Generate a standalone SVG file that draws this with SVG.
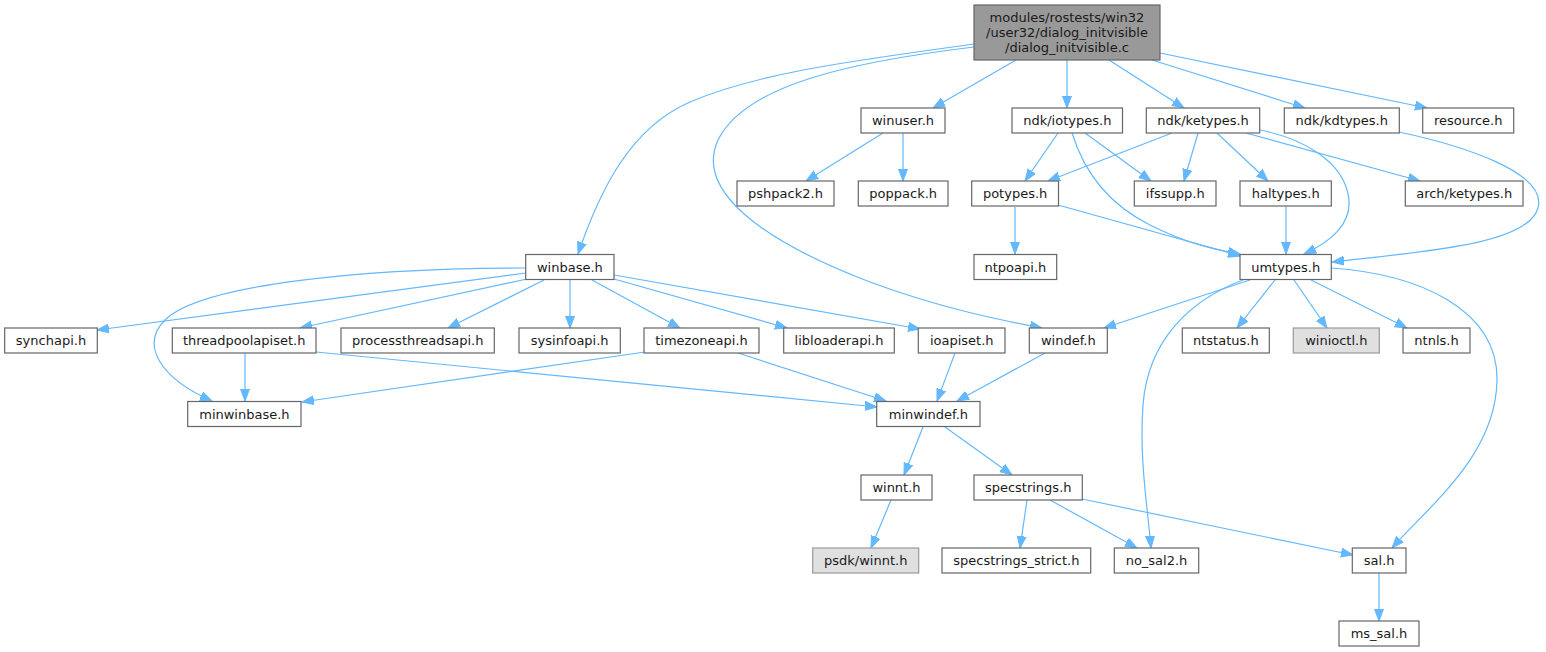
<svg xmlns="http://www.w3.org/2000/svg" width="1546" height="652" viewBox="0 0 1546 652">
<style>
.n rect{fill:#ffffff;stroke:#666666;stroke-width:1.2}
.n.g rect{fill:#e0e0e0;stroke:#999999}
.n.m rect{fill:#999999;stroke:#666666}
.n text{font-family:"DejaVu Sans","Liberation Sans",sans-serif;font-size:13px;fill:#1a1a1a;text-anchor:middle}
#edges path{fill:none;stroke:#63b8ff;stroke-width:1.2;marker-end:url(#a)}
</style>
<defs>
<marker id="a" markerWidth="13" markerHeight="11" refX="12" refY="5" orient="auto" markerUnits="userSpaceOnUse">
<path d="M0,0.5 L12,5 L0,9.5 z" fill="#63b8ff" stroke="#63b8ff" stroke-width="1"/>
</marker>
</defs>
<rect width="1546" height="652" fill="#ffffff"/>
<g id="edges">
<path d="M974,44 C860,60 760,72 690,102 C630,128 600,190 578,254"/>
<path d="M974,47 C850,62 745,85 718,140 C695,190 760,240 870,282 C940,308 1000,320 1042,328"/>
<path d="M1016,60 L933,108"/>
<path d="M1067,60 L1067,108"/>
<path d="M1109,60 L1184,108"/>
<path d="M1152,60 L1305,108"/>
<path d="M1160,53 L1427,108"/>
<path d="M883,133 L806,181"/>
<path d="M903,133 L903,181"/>
<path d="M1058,133 L1025,181"/>
<path d="M1085,133 L1151,181"/>
<path d="M1072,133 C1085,175 1110,205 1150,225 C1180,240 1205,248 1240,254"/>
<path d="M1172,133 L1048,181"/>
<path d="M1198,133 L1184,181"/>
<path d="M1217,133 L1268,181"/>
<path d="M1246,133 L1420,181"/>
<path d="M1260,130 C1300,138 1345,160 1349,200 C1351,225 1330,242 1304,254"/>
<path d="M1399,132 C1460,145 1548,172 1538,208 C1528,245 1420,252 1332,262"/>
<path d="M1015,207 L1015,254"/>
<path d="M1058,205 L1241,256"/>
<path d="M1286,206 L1286,254"/>
<path d="M1250,280 L1104,328"/>
<path d="M1243,280 C1190,300 1148,340 1143,405 C1139,460 1148,510 1151,548"/>
<path d="M1275,280 L1237,328"/>
<path d="M1294,280 L1327,328"/>
<path d="M1311,280 L1407,328"/>
<path d="M1331,268 C1420,274 1498,310 1497,380 C1496,455 1430,505 1392,548"/>
<path d="M526,273 L97,330"/>
<path d="M526,268 C360,268 200,285 165,320 C140,345 160,378 212,401"/>
<path d="M527,279 L300,328"/>
<path d="M544,280 L448,328"/>
<path d="M570,280 L570,328"/>
<path d="M592,280 L680,328"/>
<path d="M614,279 L787,328"/>
<path d="M614,275 L920,329"/>
<path d="M245,353 L245,401"/>
<path d="M316,352 L877,407"/>
<path d="M645,352 L302,402"/>
<path d="M738,353 L886,401"/>
<path d="M955,353 L937,401"/>
<path d="M1045,353 L957,401"/>
<path d="M923,427 L904,475"/>
<path d="M945,427 L1012,475"/>
<path d="M891,500 L871,548"/>
<path d="M1027,500 L1020,548"/>
<path d="M1050,500 L1137,548"/>
<path d="M1082,499 L1353,555"/>
<path d="M1379,573 L1379,621"/>
</g>
<g id="main" class="n m"><rect x="974" y="5" width="186" height="55"/><text x="1067" y="22">modules/rostests/win32</text><text x="1067" y="37">/user32/dialog_initvisible</text><text x="1067" y="52">/dialog_initvisible.c</text></g>
<g id="winuser" class="n"><rect x="861" y="108" width="84" height="25"/><text x="903" y="125">winuser.h</text></g>
<g id="ndk_iotypes" class="n"><rect x="1012" y="108" width="110.5" height="25"/><text x="1067.3" y="125">ndk/iotypes.h</text></g>
<g id="ndk_ketypes" class="n"><rect x="1146.3" y="108" width="113.4" height="25"/><text x="1203" y="125">ndk/ketypes.h</text></g>
<g id="ndk_kdtypes" class="n"><rect x="1284.3" y="108" width="115" height="25"/><text x="1341.8" y="125">ndk/kdtypes.h</text></g>
<g id="resource" class="n"><rect x="1422.7" y="108" width="91" height="25"/><text x="1468.2" y="125">resource.h</text></g>
<g id="pshpack2" class="n"><rect x="737" y="181" width="97" height="25"/><text x="785.5" y="198">pshpack2.h</text></g>
<g id="poppack" class="n"><rect x="858.3" y="181" width="89.7" height="25"/><text x="903.2" y="198">poppack.h</text></g>
<g id="potypes" class="n"><rect x="971.7" y="181" width="86.8" height="25"/><text x="1015.1" y="198">potypes.h</text></g>
<g id="ifssupp" class="n"><rect x="1134.3" y="181" width="81.7" height="25"/><text x="1175.2" y="198">ifssupp.h</text></g>
<g id="haltypes" class="n"><rect x="1240" y="181" width="91.3" height="25"/><text x="1285.7" y="198">haltypes.h</text></g>
<g id="arch_ketypes" class="n"><rect x="1405.3" y="181" width="117.7" height="25"/><text x="1464.2" y="198">arch/ketypes.h</text></g>
<g id="winbase" class="n"><rect x="525.7" y="254.5" width="88.3" height="25"/><text x="569.9" y="271.5">winbase.h</text></g>
<g id="ntpoapi" class="n"><rect x="974" y="254.5" width="82.7" height="25"/><text x="1015.4" y="271.5">ntpoapi.h</text></g>
<g id="umtypes" class="n"><rect x="1240" y="254.5" width="91.3" height="25"/><text x="1285.7" y="271.5">umtypes.h</text></g>
<g id="synchapi" class="n"><rect x="4.7" y="328" width="92.6" height="25"/><text x="51" y="345">synchapi.h</text></g>
<g id="threadpoolapiset" class="n"><rect x="172.3" y="328" width="143.7" height="25"/><text x="244.2" y="345">threadpoolapiset.h</text></g>
<g id="processthreadsapi" class="n"><rect x="341" y="328" width="153.3" height="25"/><text x="417.7" y="345">processthreadsapi.h</text></g>
<g id="sysinfoapi" class="n"><rect x="519" y="328" width="101.3" height="25"/><text x="569.7" y="345">sysinfoapi.h</text></g>
<g id="timezoneapi" class="n"><rect x="644" y="328" width="115" height="25"/><text x="701.5" y="345">timezoneapi.h</text></g>
<g id="libloaderapi" class="n"><rect x="783.7" y="328" width="110.6" height="25"/><text x="839" y="345">libloaderapi.h</text></g>
<g id="ioapiset" class="n"><rect x="918.3" y="328" width="86.7" height="25"/><text x="961.7" y="345">ioapiset.h</text></g>
<g id="windef" class="n"><rect x="1029.3" y="328" width="78" height="25"/><text x="1068.3" y="345">windef.h</text></g>
<g id="ntstatus" class="n"><rect x="1182.3" y="328" width="87" height="25"/><text x="1225.8" y="345">ntstatus.h</text></g>
<g id="winioctl" class="n g"><rect x="1293.3" y="328" width="86" height="25"/><text x="1336.3" y="345">winioctl.h</text></g>
<g id="ntnls" class="n"><rect x="1403" y="328" width="67" height="25"/><text x="1436.5" y="345">ntnls.h</text></g>
<g id="minwinbase" class="n"><rect x="187.7" y="401.5" width="113.3" height="25"/><text x="244.4" y="418.5">minwinbase.h</text></g>
<g id="minwindef" class="n"><rect x="876.7" y="401.5" width="103.3" height="25"/><text x="928.4" y="418.5">minwindef.h</text></g>
<g id="winnt" class="n"><rect x="861" y="475" width="71" height="25"/><text x="896.5" y="492">winnt.h</text></g>
<g id="specstrings" class="n"><rect x="974" y="475" width="108.3" height="25"/><text x="1028.2" y="492">specstrings.h</text></g>
<g id="psdk_winnt" class="n g"><rect x="812.7" y="548" width="106" height="25"/><text x="865.7" y="565">psdk/winnt.h</text></g>
<g id="specstrings_strict" class="n"><rect x="942" y="548" width="148.7" height="25"/><text x="1016.4" y="565">specstrings_strict.h</text></g>
<g id="no_sal2" class="n"><rect x="1114.3" y="548" width="84.4" height="25"/><text x="1156.5" y="565">no_sal2.h</text></g>
<g id="sal" class="n"><rect x="1352.3" y="548" width="53.7" height="25"/><text x="1379.2" y="565">sal.h</text></g>
<g id="ms_sal" class="n"><rect x="1339" y="621" width="80" height="25"/><text x="1379" y="638">ms_sal.h</text></g>
</svg>
